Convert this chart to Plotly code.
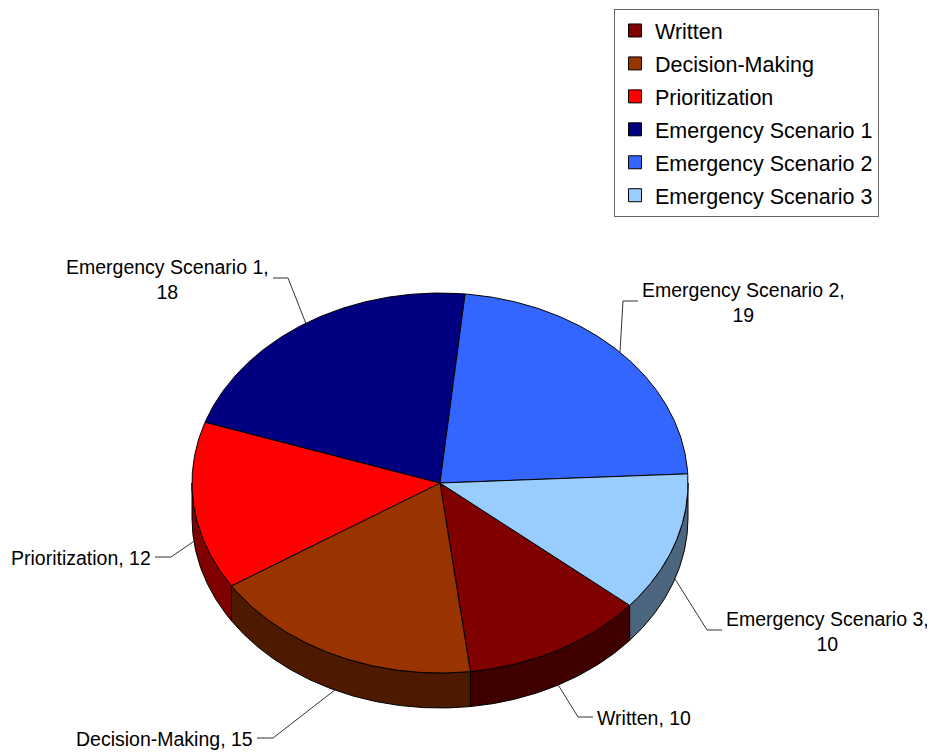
import numpy as np
import plotly.graph_objects as go

# ---------------- data ----------------
categories = ["Written", "Decision-Making", "Prioritization",
              "Emergency Scenario 1", "Emergency Scenario 2", "Emergency Scenario 3"]
values = [10, 15, 12, 18, 19, 10]
label_texts = ["Written, 10", "Decision-Making, 15", "Prioritization, 12",
               "Emergency Scenario 1,<br>18", "Emergency Scenario 2,<br>19",
               "Emergency Scenario 3,<br>10"]

# ---------------- styles ----------------
top_colors = ["#800000", "#993300", "#FF0000", "#000080", "#3366FF", "#99CCFF"]
side_colors = ["#400000", "#4D1A00", "#800000", "#000040", "#1A3380", "#4D6680"]

# page offset (default body margin of the html page)
OFF = 8
W, H = 935, 754

# pixel-space geometry of the tilted pie
CX, CY, RX, RY, DEPTH = 440, 483, 248, 190, 35
START = 130.1  # first slice angle, degrees clockwise from 12 o'clock

# label placement: (elbow x, elbow y, stub length, side)
LABEL_POS = [
    (578, 717, 15, "left"),
    (273, 738, -16, "right"),
    (171, 557, -16, "right"),
    (288, 278, -15, "right"),
    (623, 301, 15, "left"),
    (707, 630, 15, "left"),
]
FONT = "Liberation Sans, Arial, Helvetica, sans-serif"


def pt(t, dz=0.0):
    r = np.radians(t)
    return CX + RX * np.sin(r), CY - RY * np.cos(r) + dz


total = float(sum(values))
bounds = [START]
for v in values:
    bounds.append(bounds[-1] + v / total * 360.0)

fig = go.Figure()

# side walls (front half only)
for i in range(len(values)):
    t1, t2 = bounds[i], bounds[i + 1]
    for lo, hi in [(90, 270), (450, 630)]:
        a, b = max(t1, lo), min(t2, hi)
        if b <= a:
            continue
        ts = np.linspace(a, b, max(3, int((b - a) * 2)))
        xt, yt = pt(ts)
        xb, yb = pt(ts[::-1], DEPTH)
        xs = np.concatenate([xt, xb, xt[:1]])
        ys = np.concatenate([yt, yb, yt[:1]])
        fig.add_trace(go.Scatter(x=xs, y=ys, mode="lines", fill="toself",
                                 fillcolor=side_colors[i],
                                 line=dict(color="black", width=1),
                                 hoverinfo="skip", showlegend=False))

# top faces
for i in range(len(values)):
    t1, t2 = bounds[i], bounds[i + 1]
    ts = np.linspace(t1, t2, max(3, int((t2 - t1) * 2)))
    xa, ya = pt(ts)
    xs = np.concatenate([[CX], xa, [CX]])
    ys = np.concatenate([[CY], ya, [CY]])
    fig.add_trace(go.Scatter(x=xs, y=ys, mode="lines", fill="toself",
                             fillcolor=top_colors[i],
                             line=dict(color="black", width=1),
                             hoverinfo="skip", showlegend=False))

# leader lines + labels
annotations = []
for i in range(len(values)):
    mid = (bounds[i] + bounds[i + 1]) / 2.0
    front = np.cos(np.radians(mid)) < 0
    ax, ay = pt(mid, DEPTH if front else 0.0)
    ex, ey, stub, side = LABEL_POS[i]
    fig.add_trace(go.Scatter(x=[ax, ex, ex + stub], y=[ay, ey, ey], mode="lines",
                             line=dict(color="#333333", width=1),
                             hoverinfo="skip", showlegend=False))
    tx = ex + stub + (2 if side == "left" else -2)
    annotations.append(dict(x=tx, y=ey + 1, xref="x", yref="y", text=label_texts[i],
                            showarrow=False, xanchor=side, yanchor="middle",
                            align="center",
                            font=dict(family=FONT, size=19.5, color="black")))

# legend entries
for i, c in enumerate(categories):
    fig.add_trace(go.Scatter(x=[None], y=[None], mode="markers", name=c,
                             legendgroup=c,
                             marker=dict(symbol="square", size=13, color=top_colors[i],
                                         line=dict(color="black", width=1))))

fw, fh = W - OFF, H - OFF
fig.update_layout(
    width=fw, height=fh,
    margin=dict(l=0, r=0, t=0, b=0),
    paper_bgcolor="white", plot_bgcolor="white",
    xaxis=dict(range=[OFF, W], visible=False, fixedrange=True),
    yaxis=dict(range=[H, OFF], visible=False, fixedrange=True),
    showlegend=True,
    legend=dict(x=(614 - OFF) / fw, y=1 - (9 - OFF) / fh, xanchor="left", yanchor="top",
                bordercolor="#666666", borderwidth=1, bgcolor="white",
                tracegroupgap=2, traceorder="grouped",
                font=dict(family=FONT, size=21.5, color="black")),
    annotations=annotations,
    hovermode=False,
)

fig.write_html("out.html")
